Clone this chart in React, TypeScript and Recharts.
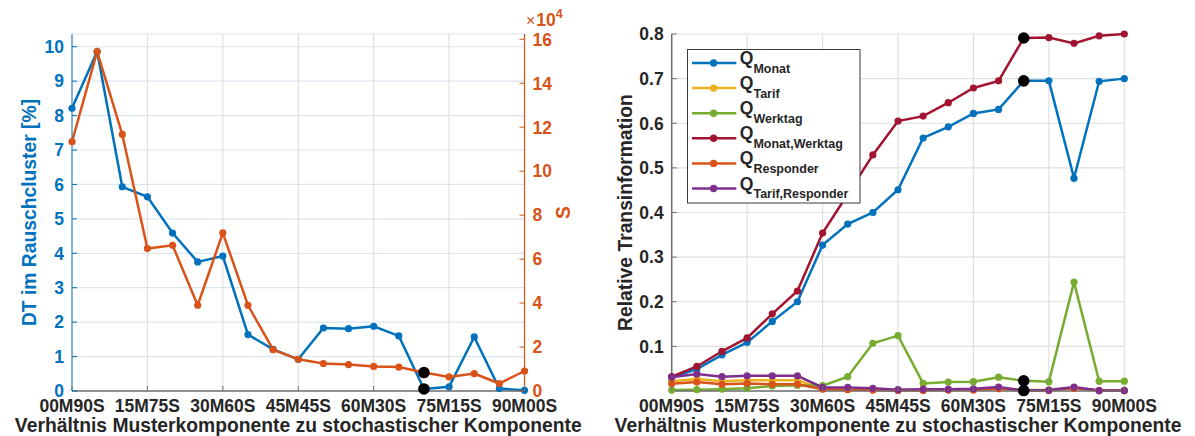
import React from 'react';
import {
  LineChart,
  Line,
  XAxis,
  YAxis,
  CartesianGrid,
  Legend,
} from 'recharts';

// Ratio of pattern component (M) to stochastic component (S), in 5-step increments
const categories = [
  '00M90S', '05M85S', '10M80S', '15M75S', '20M70S', '25M65S', '30M60S',
  '35M55S', '40M50S', '45M45S', '50M40S', '55M35S', '60M30S', '65M25S',
  '70M20S', '75M15S', '80M10S', '85M05S', '90M00S',
];
const xTicks = [0, 3, 6, 9, 12, 15, 18];
const highlightIndex = 14;

// Left panel: share of noise cluster [%] and S (in units of 10^4)
const dtRauschcluster = [
  8.21, 9.86, 5.93, 5.64, 4.59, 3.75, 3.92, 1.64, 1.21, 0.92,
  1.83, 1.81, 1.88, 1.6, 0.06, 0.12, 1.57, 0.07, 0.02,
];
const sValues = [
  11.34, 15.44, 11.67, 6.48, 6.63, 3.9, 7.19, 3.9, 1.88, 1.44,
  1.25, 1.2, 1.12, 1.09, 0.84, 0.64, 0.79, 0.34, 0.91,
];
const dtTicks = [0, 1, 2, 3, 4, 5, 6, 7, 8, 9, 10];
const sTicks = [0, 2, 4, 6, 8, 10, 12, 14, 16];

// Right panel: relative transinformation per feature combination
const qMonat = [
  0.03, 0.049, 0.081, 0.109, 0.156, 0.2, 0.327, 0.374, 0.4, 0.451,
  0.567, 0.592, 0.622, 0.631, 0.695, 0.695, 0.477, 0.694, 0.7,
];
const qTarif = [
  0.022, 0.027, 0.022, 0.024, 0.024, 0.024, 0.005, 0.004, 0.003, 0.002,
  0.003, 0.003, 0.003, 0.007, 0.002, 0.002, 0.007, 0.001, 0.001,
];
const qWerktag = [
  0.002, 0.003, 0.004, 0.006, 0.011, 0.013, 0.012, 0.032, 0.107, 0.124,
  0.017, 0.02, 0.021, 0.031, 0.023, 0.021, 0.244, 0.022, 0.022,
];
const qMonatWerktag = [
  0.032, 0.055, 0.089, 0.119, 0.173, 0.224, 0.354, 0.441, 0.529, 0.605,
  0.616, 0.646, 0.679, 0.695, 0.791, 0.792, 0.779, 0.796, 0.8,
];
const qResponder = [
  0.016, 0.02, 0.015, 0.017, 0.015, 0.015, 0.004, 0.003, 0.002, 0.001,
  0.001, 0.002, 0.002, 0.005, 0.001, 0.001, 0.006, 0.001, 0.001,
];
const qTarifResponder = [
  0.031, 0.038, 0.032, 0.034, 0.034, 0.034, 0.008, 0.008, 0.006, 0.003,
  0.004, 0.004, 0.005, 0.009, 0.001, 0.002, 0.009, 0.001, 0.001,
];
const qTicks = [0.1, 0.2, 0.3, 0.4, 0.5, 0.6, 0.7, 0.8];

const FONT = '"Liberation Sans", Arial, Helvetica, sans-serif';
const INK = '#262626';
const FRAME = '#6f6f6f';
const BLUE = '#0072BD';
const ORANGE = '#D95319';
const YELLOW = '#EDB120';
const GREEN = '#77AC30';
const RED = '#A2142F';
const PURPLE = '#7E2F8E';
const GRID_GRAY = '#e0e0e0';
const GRID_BLUE = '#d9e6f2';

const TICK_FONT = 17.5;
const TITLE_FONT = 19.3;
const TICK_GAP = 8;
const TICK_LEN = 5;

const rightSeries = [
  { key: 'qMonat', sub: 'Monat', color: BLUE, values: qMonat, highlight: true },
  { key: 'qTarif', sub: 'Tarif', color: YELLOW, values: qTarif, highlight: false },
  { key: 'qWerktag', sub: 'Werktag', color: GREEN, values: qWerktag, highlight: true },
  { key: 'qMonatWerktag', sub: 'Monat,Werktag', color: RED, values: qMonatWerktag, highlight: true },
  { key: 'qResponder', sub: 'Responder', color: ORANGE, values: qResponder, highlight: false },
  { key: 'qTarifResponder', sub: 'Tarif,Responder', color: PURPLE, values: qTarifResponder, highlight: true },
];

const rows = categories.map((label, i) => {
  const row: Record<string, number | string> = {
    idx: i,
    label,
    dt: dtRauschcluster[i],
    s: sValues[i],
  };
  rightSeries.forEach((s) => {
    row[s.key] = s.values[i];
  });
  return row;
});

const fmtTenth = (v: number) => v.toFixed(1);
const fmtInt = (v: number) => String(v);

// Marker renderer: regular dots in series colour, a larger black dot at the highlighted step
const makeDot = (color: string, highlight: boolean) => (props: any) => {
  const { cx, cy, index, key } = props;
  if (cx == null || cy == null) return <g key={key ?? `d-${index}`} />;
  const isHl = highlight && index === highlightIndex;
  return (
    <circle
      key={key ?? `d-${index}`}
      cx={cx}
      cy={cy}
      r={isHl ? 5.8 : 3.6}
      fill={isHl ? '#000' : color}
      stroke="none"
    />
  );
};

// Tick on a vertical axis: inward tick mark plus label
function YTick(props: any) {
  const { x, y, payload, side, color, markColor, format, hideLabel } = props;
  const left = side === 'left';
  const axisX = left ? x + TICK_GAP : x - TICK_GAP;
  const dir = left ? 1 : -1;
  return (
    <g>
      <line
        x1={axisX}
        x2={axisX + dir * TICK_LEN}
        y1={y}
        y2={y}
        stroke={markColor}
        strokeWidth={1}
      />
      {!hideLabel && (
        <text
          x={x}
          y={y}
          dy="0.36em"
          textAnchor={left ? 'end' : 'start'}
          fill={color}
          fontFamily={FONT}
          fontWeight="bold"
          fontSize={TICK_FONT}
        >
          {format(payload.value)}
        </text>
      )}
    </g>
  );
}

// Tick on a horizontal axis: inward tick mark plus category label
function XTick(props: any) {
  const { x, y, payload, top } = props;
  if (top) {
    return <line x1={x} x2={x} y1={y} y2={y + TICK_LEN} stroke={FRAME} strokeWidth={1} />;
  }
  return (
    <g>
      <line x1={x} x2={x} y1={y} y2={y - TICK_LEN} stroke={FRAME} strokeWidth={1} />
      <text
        x={x}
        y={y + 20.5}
        textAnchor="middle"
        fill={INK}
        fontFamily={FONT}
        fontWeight="bold"
        fontSize={TICK_FONT}
      >
        {categories[payload.value]}
      </text>
    </g>
  );
}

function XTitle(props: any) {
  const { cx } = props;
  return (
    <text
      x={cx}
      y={431.5}
      textAnchor="middle"
      fill={INK}
      fontFamily={FONT}
      fontWeight="bold"
      fontSize={TITLE_FONT}
    >
      Verhältnis Musterkomponente zu stochastischer Komponente
    </text>
  );
}

function VTitle(props: any) {
  const { cx, cy, text, color } = props;
  return (
    <text
      x={cx}
      y={cy}
      dy="0.36em"
      textAnchor="middle"
      transform={`rotate(-90 ${cx} ${cy})`}
      fill={color}
      fontFamily={FONT}
      fontWeight="bold"
      fontSize={TITLE_FONT}
    >
      {text}
    </text>
  );
}

function STitle() {
  return (
    <g>
      <VTitle cx={563} cy={212.5} text="S" color={ORANGE} />
      <text x={526} y={26} fill={ORANGE} fontFamily={FONT} fontSize={16}>
        ×
        <tspan fontWeight="bold" fontSize={TICK_FONT} dx={1}>10</tspan>
        <tspan fontWeight="bold" fontSize={12.5} dy={-8}>4</tspan>
      </text>
    </g>
  );
}

function TransLegend() {
  return (
    <svg width={174} height={155} style={{ display: 'block' }}>
      <rect x={0.5} y={0.5} width={172.5} height={153.5} fill="#fff" stroke="#3a3a3a" strokeWidth={1} />
      {rightSeries.map((s, i) => {
        const cy = 14 + i * 25.1;
        return (
          <g key={s.key}>
            <line x1={5} x2={49.3} y1={cy} y2={cy} stroke={s.color} strokeWidth={2.5} />
            <circle cx={26.6} cy={cy} r={3.7} fill={s.color} />
            <text
              x={52.8}
              y={cy + 1}
              fill={INK}
              fontFamily={FONT}
              fontWeight="bold"
              fontSize={17.5}
            >
              Q
              <tspan dy={8.5} fontSize={12.5}>{s.sub}</tspan>
            </text>
          </g>
        );
      })}
    </svg>
  );
}

function LeftPanel() {
  return (
    <LineChart width={600} height={436} data={rows} margin={{ top: 34, right: 0, bottom: 0, left: 0 }}>
      <CartesianGrid yAxisId="dt" horizontal vertical={false} stroke={GRID_BLUE} strokeWidth={1.2} />
      <CartesianGrid yAxisId="dt" horizontal={false} vertical stroke={GRID_GRAY} strokeWidth={1.2} />
      <XAxis
        type="number"
        dataKey="idx"
        domain={[0, 18]}
        ticks={xTicks}
        interval={0}
        height={45}
        tickSize={0}
        tickMargin={0}
        axisLine={{ stroke: FRAME, strokeWidth: 1.5 }}
        tick={<XTick />}
        label={<XTitle cx={298.25} />}
      />
      <XAxis
        xAxisId="top"
        orientation="top"
        type="number"
        dataKey="idx"
        domain={[0, 18]}
        ticks={xTicks}
        interval={0}
        height={0}
        tickSize={0}
        tickMargin={0}
        axisLine={{ stroke: FRAME, strokeWidth: 1.5 }}
        tick={<XTick top />}
      />
      <YAxis
        yAxisId="dt"
        orientation="left"
        width={72}
        domain={[0, 10.37]}
        ticks={dtTicks}
        interval={0}
        tickSize={0}
        tickMargin={TICK_GAP}
        axisLine={{ stroke: BLUE, strokeWidth: 1.2, strokeOpacity: 0.75 }}
        tick={<YTick side="left" color={BLUE} markColor={BLUE} format={fmtInt} />}
        label={<VTitle cx={29} cy={212.5} text="DT im Rauschcluster [%]" color={BLUE} />}
      />
      <YAxis
        yAxisId="s"
        orientation="right"
        width={75.5}
        domain={[0, 16.24]}
        ticks={sTicks}
        interval={0}
        tickSize={0}
        tickMargin={TICK_GAP}
        axisLine={{ stroke: ORANGE, strokeWidth: 1.2 }}
        tick={<YTick side="right" color={ORANGE} markColor={ORANGE} format={fmtInt} />}
        label={<STitle />}
      />
      <Line
        yAxisId="dt"
        type="linear"
        dataKey="dt"
        stroke={BLUE}
        strokeWidth={2.5}
        dot={makeDot(BLUE, true)}
        activeDot={false}
        isAnimationActive={false}
      />
      <Line
        yAxisId="s"
        type="linear"
        dataKey="s"
        stroke={ORANGE}
        strokeWidth={2.5}
        dot={makeDot(ORANGE, true)}
        activeDot={false}
        isAnimationActive={false}
      />
    </LineChart>
  );
}

function RightPanel() {
  return (
    <LineChart width={595} height={436} data={rows} margin={{ top: 34, right: 70.7, bottom: 0, left: 0 }}>
      <CartesianGrid yAxisId="q" stroke={GRID_GRAY} strokeWidth={1.2} />
      <XAxis
        type="number"
        dataKey="idx"
        domain={[0, 18]}
        ticks={xTicks}
        interval={0}
        height={45}
        tickSize={0}
        tickMargin={0}
        axisLine={{ stroke: FRAME, strokeWidth: 1.5 }}
        tick={<XTick />}
        label={<XTitle cx={298} />}
      />
      <XAxis
        xAxisId="top"
        orientation="top"
        type="number"
        dataKey="idx"
        domain={[0, 18]}
        ticks={xTicks}
        interval={0}
        height={0}
        tickSize={0}
        tickMargin={0}
        axisLine={{ stroke: FRAME, strokeWidth: 1.5 }}
        tick={<XTick top />}
      />
      <YAxis
        yAxisId="q"
        orientation="left"
        width={71.7}
        domain={[0, 0.8]}
        ticks={qTicks}
        interval={0}
        tickSize={0}
        tickMargin={TICK_GAP}
        axisLine={{ stroke: FRAME, strokeWidth: 1.5 }}
        tick={<YTick side="left" color={INK} markColor={FRAME} format={fmtTenth} />}
        label={<VTitle cx={25.5} cy={212.5} text="Relative Transinformation" color={INK} />}
      />
      <YAxis
        yAxisId="frame"
        orientation="right"
        width={0}
        domain={[0, 0.8]}
        ticks={qTicks}
        interval={0}
        tickSize={0}
        tickMargin={TICK_GAP}
        axisLine={{ stroke: FRAME, strokeWidth: 1.5 }}
        tick={<YTick side="right" color={INK} markColor={FRAME} format={fmtTenth} hideLabel />}
      />
      {rightSeries.map((s) => (
        <Line
          key={s.key}
          yAxisId="q"
          type="linear"
          dataKey={s.key}
          name={s.sub}
          stroke={s.color}
          strokeWidth={2.5}
          dot={makeDot(s.color, s.highlight)}
          activeDot={false}
          isAnimationActive={false}
        />
      ))}
      <Legend
        layout="vertical"
        align="center"
        verticalAlign="middle"
        content={<TransLegend />}
        wrapperStyle={{ left: 86.7, top: 49.3, width: 174, height: 155 }}
      />
    </LineChart>
  );
}

export default function App() {
  return (
    <div
      style={{
        position: 'absolute',
        left: 0,
        top: 0,
        width: 1195,
        height: 436,
        background: '#fff',
        overflow: 'hidden',
      }}
    >
      <div style={{ position: 'absolute', left: 0, top: 0 }}>
        <LeftPanel />
      </div>
      <div style={{ position: 'absolute', left: 600, top: 0 }}>
        <RightPanel />
      </div>
    </div>
  );
}
